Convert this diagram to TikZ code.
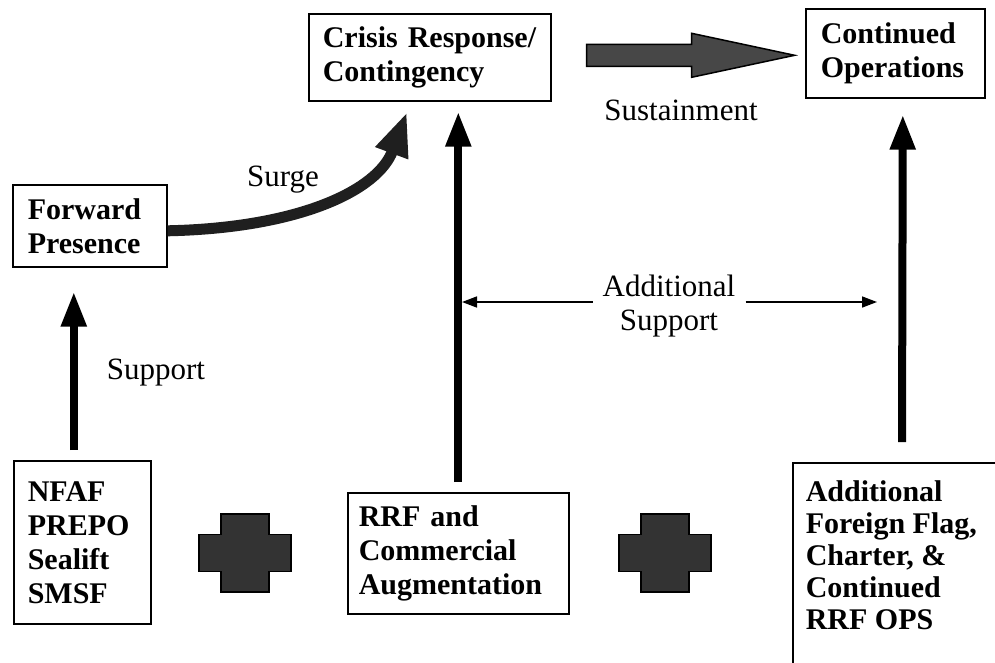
\documentclass[tikz,border=0pt]{standalone}
\usepackage{fontspec}
\setmainfont{Liberation Serif}
\usetikzlibrary{arrows.meta,calc}
\begin{document}
\begin{tikzpicture}[x=1pt,y=-1pt,
  box/.style={draw, line width=1.6pt, align=left, anchor=north west,
    font=\bfseries\fontsize{30}{34}\selectfont, inner ysep=0pt},
  lbl/.style={font=\fontsize{31}{34}\selectfont, inner sep=0pt},
  uparrow/.style={line width=8pt, -{Triangle[length=35pt,width=24pt]}},
  thinarrow/.style={line width=1.6pt, -{Triangle[length=15pt,width=11pt]}},
  surge/.style={line width=11pt, draw=black!88, -{Triangle[length=44pt,width=32pt]}},
  blockarrow/.style={fill=black!72, draw=black, line width=1.5pt, line join=miter},
  plus/.style={fill=black!80, draw=black, line width=1.5pt},
  plusmark/.pic={\filldraw[plus] (-46,-18.5) -- (-24,-18.5) -- (-24,-39) -- (24,-39)
     -- (24,-18.5) -- (46,-18.5) -- (46,18.5) -- (24,18.5) -- (24,39) -- (-24,39)
     -- (-24,18.5) -- (-46,18.5) -- cycle;},
]
\useasboundingbox (0,0) rectangle (995,662);
\clip (0,0) rectangle (995,662);
\fill[white] (0,0) rectangle (995,662);

% boxes
\node[box, inner xsep=14pt, text width=214pt, minimum height=87pt] (crisis) at (308,13)
  {Crisis Response/\\Contingency};
\node[box, inner xsep=15pt, text width=149pt, minimum height=89pt] (contops) at (805,8)
  {Continued\\Operations};
\node[box, inner xsep=15pt, text width=124pt, minimum height=82pt] (forward) at (12,184)
  {Forward\\Presence};
\node[box, inner xsep=14pt, text width=109pt, minimum height=163pt] (nfaf) at (13,460)
  {NFAF\\PREPO\\Sealift\\SMSF};
\node[box, inner xsep=11pt, text width=199pt, minimum height=121pt] (rrf) at (347,492)
  {RRF and\\Commercial\\Augmentation};
\node[box, inner xsep=13pt, inner ysep=18pt, align=none] (addl) at (792,462)
  {\fontsize{30}{32}\selectfont\parbox[b][220pt][t]{200pt}{\raggedright
   Additional\\Foreign Flag,\\Charter, \&\\Continued\\RRF OPS}};

% labels
\node[lbl] (supportlbl) at (156,373) {Support};
\node[lbl] (surgelbl) at (283,180) {Surge};
\node[lbl] (sustlbl) at (681,110) {Sustainment};
\node[lbl, align=center, inner xsep=10pt] (addsup) at (669,306) {Additional\\Support};

% vertical support arrows
\draw[uparrow] ([xshift=-8.5pt,yshift=10pt]nfaf.north) -- ([xshift=-16pt,yshift=-24pt]forward.south);
\draw[uparrow] ([yshift=10pt]rrf.north) -- ([xshift=28.5pt,yshift=-10pt]crisis.south);
\draw[uparrow] ([xshift=110pt,yshift=20pt]addl.north west) -- ([xshift=7.5pt,yshift=-16pt]contops.south);

% additional support
\coordinate (asl) at (462,302);
\coordinate (asr) at (877,302);
\draw[thinarrow] (addsup.west |- asl) -- (asl);
\draw[thinarrow] (addsup.east |- asr) -- (asr);

% surge
\draw[surge] ([yshift=-5pt]forward.east) .. controls (300,228) and (378,190) .. (407,112);

% sustainment block arrow
\coordinate (sust) at ($(crisis.east)+(35pt,2pt)$);
\filldraw[blockarrow] (sust) ++(0,-11) -- ++(105,0) -- ++(0,-11) -- ++(103,22)
  -- ++(-103,22) -- ++(0,-11) -- ++(-105,0) -- cycle;

% plus signs
\pic at (245,553) {plusmark};
\pic at (665,553) {plusmark};
\end{tikzpicture}
\end{document}
